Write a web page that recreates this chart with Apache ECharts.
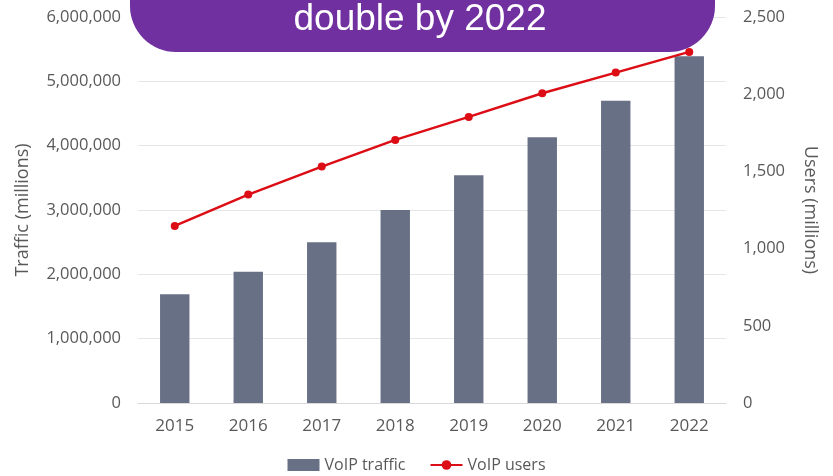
<!DOCTYPE html>
<html><head><meta charset="utf-8">
<script src="https://cdn.jsdelivr.net/npm/echarts@6/dist/echarts.min.js"></script>
<style>html,body{margin:0;padding:0;background:#fff}#c{width:833px;height:476px}</style>
</head><body><div id="c"></div>
<script>
var years = ['2015','2016','2017','2018','2019','2020','2021','2022'];
var trafficValues = [1690000, 2040000, 2500000, 3000000, 3540000, 4130000, 4700000, 5390000];
var userValues = [1147, 1350, 1531, 1704, 1853, 2006, 2140, 2274];
var leftTicks = {min: 0, max: 6000000, interval: 1000000};
var rightTicks = {min: 0, max: 2500, interval: 500};
var titleText = 'double by 2022';

var grey = '#595959';
var font = 'Open Sans';
var chart = echarts.init(document.getElementById('c'));
function fmt(v){ return v.toLocaleString('en-US'); }
chart.setOption({
  animation: false,
  grid: {left: 138, right: 107, top: 17, bottom: 73},
  legend: {
    top: 452, left: 'center', itemGap: 24, itemWidth: 32, itemHeight: 12,
    textStyle: {color: grey, fontFamily: font, fontSize: 16},
    data: [{name: 'VoIP traffic', icon: 'rect'}, {name: 'VoIP users'}]
  },
  xAxis: {
    type: 'category', data: years,
    axisLine: {lineStyle: {color: '#d9d9d9', width: 1}},
    axisTick: {show: false},
    axisLabel: {color: grey, fontFamily: font, fontSize: 17, margin: 15}
  },
  yAxis: [{
    type: 'value', min: leftTicks.min, max: leftTicks.max, interval: leftTicks.interval,
    name: 'Traffic (millions)', nameLocation: 'middle', nameGap: 106, nameRotate: 90,
    nameTextStyle: {color: grey, fontFamily: font, fontSize: 18},
    axisLabel: {color: grey, fontFamily: font, fontSize: 16.5, margin: 17, formatter: fmt},
    axisLine: {show: false}, axisTick: {show: false},
    splitLine: {lineStyle: {color: '#e6e6e6', width: 1}}
  }, {
    type: 'value', min: rightTicks.min, max: rightTicks.max, interval: rightTicks.interval,
    name: 'Users (millions)', nameLocation: 'middle', nameGap: 75, nameRotate: -90,
    nameTextStyle: {color: grey, fontFamily: font, fontSize: 18},
    axisLabel: {color: grey, fontFamily: font, fontSize: 16.5, margin: 17, formatter: fmt},
    axisLine: {show: false}, axisTick: {show: false},
    splitLine: {show: false}
  }],
  series: [{
    name: 'VoIP traffic', type: 'bar', data: trafficValues, barWidth: '40%',
    itemStyle: {color: '#687086'}
  }, {
    name: 'VoIP users', type: 'line', yAxisIndex: 1, data: userValues,
    symbol: 'circle', symbolSize: 8,
    lineStyle: {color: '#dc0d15', width: 2.5},
    itemStyle: {color: '#dc0d15'}
  }],
  graphic: [{
    type: 'rect', z: 100,
    shape: {x: 130, y: -70, width: 585, height: 122, r: 46},
    style: {fill: '#7030a0'}
  }, {
    type: 'text', z: 101, x: 420, y: 20,
    style: {text: titleText, fill: '#ffffff', font: '37px "Liberation Sans", Arial, sans-serif',
            textAlign: 'center', textVerticalAlign: 'middle'}
  }]
});
</script></body></html>
